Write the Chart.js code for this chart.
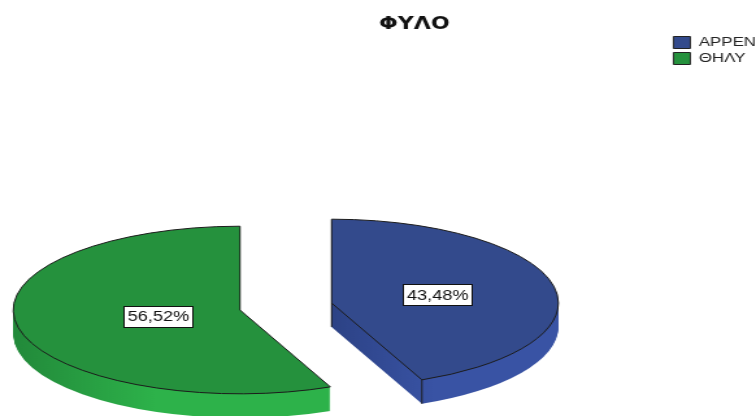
<!DOCTYPE html>
<html>
<head>
<meta charset="utf-8">
<title>ΦΥΛΟ</title>
<script src="https://cdn.jsdelivr.net/npm/chart.js@4.4.1/dist/chart.umd.min.js"></script>
<style>
  html, body { margin: 0; padding: 0; background: #fff; overflow: hidden; }
  /* the reference export is stretched sideways, so draw narrow and widen */
  #wrap { width: 582px; height: 416px; transform: scaleX(1.299); transform-origin: 0 0; }
</style>
</head>
<body>
<div id="wrap"><canvas id="pieChart"></canvas></div>
<script>
const categories = ['ΑΡΡΕΝ', 'ΘΗΛΥ'];
const percentValues = [43.48, 56.52];
const valueLabels = ['43,48%', '56,52%'];
const chartTitle = 'ΦΥΛΟ';

const topColors = ['#334a8c', '#25913d'];
const wallColors = [['#2c4285', '#3953a4'], ['#22893a', '#2db24a']];

// 3d look: where the pie sits, how flat it is, wall height, explode distance
const PIE_X = 220, PIE_Y = 306.5, TILT = 0.48, DEPTH = 24, EXPLODE = 36;

function slicePath(ctx, cx, cy, r, start, end) {
    ctx.save();
    ctx.translate(cx, cy);
    ctx.scale(1, TILT);
    ctx.beginPath();
    ctx.moveTo(0, 0);
    ctx.arc(0, 0, r, start, end);
    ctx.closePath();
    ctx.restore();
}

const pie3d = {
    id: 'pie3d',
    beforeDatasetsDraw(chart) {
        const ctx = chart.ctx;
        const arcs = chart.getDatasetMeta(0).data;
        const slices = arcs.map((arc, i) => {
            const p = arc.getProps(['x', 'y', 'startAngle', 'endAngle', 'outerRadius']);
            const mid = (p.startAngle + p.endAngle) / 2;
            return {
                arc, i, p, mid,
                cx: PIE_X + Math.cos(mid) * EXPLODE,
                cy: PIE_Y + Math.sin(mid) * EXPLODE * TILT
            };
        });

        // side walls: stack the slice shape downwards
        slices.forEach(s => {
            const r = s.p.outerRadius;
            let minX = 0, maxX = 0;
            for (let a = s.p.startAngle; a <= s.p.endAngle; a += 0.02) {
                minX = Math.min(minX, Math.cos(a) * r);
                maxX = Math.max(maxX, Math.cos(a) * r);
            }
            const grad = ctx.createLinearGradient(s.cx + minX, 0, s.cx + maxX, 0);
            grad.addColorStop(0, wallColors[s.i][0]);
            grad.addColorStop(0.45, wallColors[s.i][1]);
            grad.addColorStop(1, wallColors[s.i][1]);
            ctx.save();
            ctx.fillStyle = grad;
            for (let d = DEPTH; d >= 1; d--) {
                slicePath(ctx, s.cx, s.cy + d, r, s.p.startAngle, s.p.endAngle);
                ctx.fill();
            }
            ctx.restore();
        });

        // top faces, drawn by the arc elements themselves
        slices.forEach(s => {
            ctx.save();
            ctx.translate(s.cx, s.cy);
            ctx.scale(1, TILT);
            ctx.translate(-s.p.x, -s.p.y);
            s.arc.draw(ctx);
            ctx.restore();

            ctx.save();
            slicePath(ctx, s.cx, s.cy, s.p.outerRadius, s.p.startAngle, s.p.endAngle);
            ctx.strokeStyle = '#1c1c1c';
            ctx.lineWidth = 1;
            ctx.stroke();

            // edges of the cut faces that face the viewer
            const r = s.p.outerRadius;
            const edges = [];
            if (Math.cos(s.p.endAngle) > 0.05) edges.push(s.p.endAngle);
            if (Math.cos(s.p.startAngle) < -0.05) edges.push(s.p.startAngle);
            ctx.beginPath();
            edges.forEach(a => {
                const ex = s.cx + Math.cos(a) * r;
                const ey = s.cy + Math.sin(a) * r * TILT;
                ctx.moveTo(s.cx, s.cy);
                ctx.lineTo(s.cx, s.cy + DEPTH);
                ctx.moveTo(ex, ey);
                ctx.lineTo(ex, ey + DEPTH);
            });
            ctx.stroke();
            ctx.restore();
        });

        // value labels at the centroid of each top face
        ctx.save();
        ctx.font = '14px "Liberation Sans", Arial, sans-serif';
        ctx.textAlign = 'center';
        ctx.textBaseline = 'middle';
        slices.forEach(s => {
            const half = (s.p.endAngle - s.p.startAngle) / 2;
            const dist = 2 * s.p.outerRadius * Math.sin(half) / (3 * half);
            const lx = s.cx + Math.cos(s.mid) * dist;
            const ly = s.cy + Math.sin(s.mid) * dist * TILT;
            const text = valueLabels[s.i];
            const w = Math.round(ctx.measureText(text).width + 6);
            const h = 21;
            const bx = Math.round(lx - w / 2) + 0.5;
            const by = Math.round(ly - h / 2) + 0.5;
            ctx.fillStyle = '#fff';
            ctx.fillRect(bx, by, w, h);
            ctx.strokeStyle = '#111';
            ctx.lineWidth = 1;
            ctx.strokeRect(bx, by, w, h);
            ctx.fillStyle = '#111';
            ctx.fillText(text, lx, ly + 1);
        });
        ctx.restore();
        return false;
    }
};

new Chart(document.getElementById('pieChart'), {
    type: 'pie',
    data: {
        labels: categories,
        datasets: [{
            data: percentValues,
            backgroundColor: topColors,
            borderWidth: 0
        }]
    },
    options: {
        responsive: true,
        maintainAspectRatio: false,
        animation: false,
        radius: 174.6,
        layout: { padding: { left: 46, right: -10 } },
        plugins: {
            title: {
                display: true,
                text: chartTitle,
                color: '#111',
                font: { family: 'DejaVu Sans', size: 17, weight: 'bold' },
                padding: { top: 14, bottom: 6 }
            },
            legend: {
                position: 'right',
                align: 'start',
                title: {
                    display: true,
                    text: ' ',
                    font: { size: 10 },
                    padding: { top: 21, bottom: 0 }
                },
                labels: {
                    boxWidth: 13,
                    boxHeight: 12,
                    padding: 3,
                    color: '#222',
                    font: { family: 'Liberation Sans', size: 13 },
                    generateLabels(chart) {
                        const base = Chart.overrides.doughnut.plugins.legend.labels.generateLabels(chart);
                        return base.map(item => ({ ...item, strokeStyle: '#222', lineWidth: 1 }));
                    }
                }
            },
            tooltip: { enabled: false }
        }
    },
    plugins: [pie3d]
});
</script>
</body>
</html>
